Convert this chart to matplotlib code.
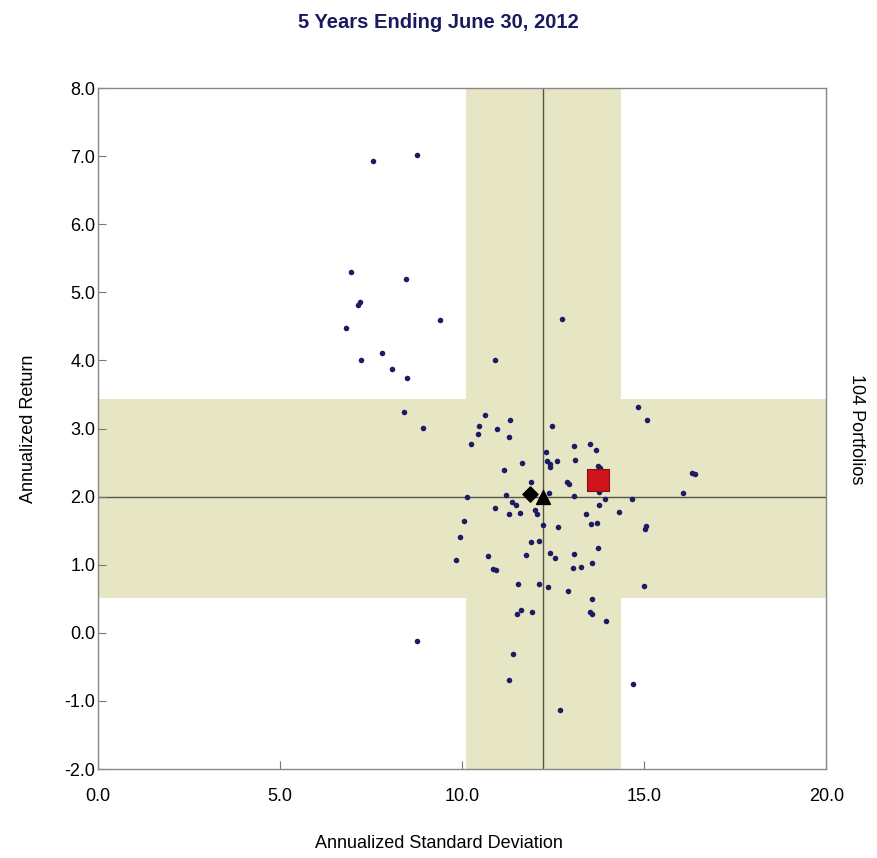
import matplotlib
matplotlib.use("Agg")
import matplotlib.pyplot as plt
import numpy as np

plt.rcParams['font.family'] = ['Liberation Sans', 'DejaVu Sans']

# Universo de carteras (desviacion estandar anualizada, rentabilidad anualizada)
std_dev = [7.55, 8.76, 6.95, 8.46, 7.20, 7.14, 6.81, 9.40, 7.79, 7.23, 8.06, 8.47, 8.40, 8.91,
           10.45, 10.44, 10.23, 10.13, 10.05, 9.95, 9.84, 8.75,
           12.74, 10.90, 10.62, 11.31, 10.96, 11.28, 12.45, 12.29, 12.33, 12.41, 12.41, 12.60,
           11.64, 11.15, 11.88, 12.88, 11.21, 12.37,
           11.36, 11.47, 10.89, 11.28, 11.59, 12.01, 12.05, 12.23, 12.64, 11.90, 12.11, 10.71,
           11.76, 12.41, 12.54, 10.84, 10.92, 11.54, 12.12, 12.35, 12.91, 11.62, 11.50, 11.91,
           11.40, 11.27, 12.67,
           14.83, 15.07, 13.07, 13.51, 13.68, 13.10, 13.72, 13.79, 12.94, 13.76, 13.07, 13.93,
           16.31, 16.40, 16.05, 14.66,
           13.75, 13.41, 14.31, 13.53, 13.70, 15.05, 15.03, 13.72, 13.08, 13.57, 13.03, 13.25,
           14.98, 13.57, 13.52, 13.56, 13.95, 14.68]
returns = [6.93, 7.02, 5.30, 5.20, 4.86, 4.81, 4.48, 4.59, 4.11, 4.00, 3.87, 3.74, 3.24, 3.01,
           3.03, 2.92, 2.78, 2.00, 1.64, 1.41, 1.07, -0.12,
           4.61, 4.00, 3.20, 3.12, 3.00, 2.88, 3.04, 2.66, 2.53, 2.48, 2.43, 2.52,
           2.50, 2.39, 2.21, 2.22, 2.03, 2.06,
           1.92, 1.87, 1.84, 1.74, 1.76, 1.81, 1.74, 1.59, 1.56, 1.33, 1.35, 1.13,
           1.15, 1.17, 1.10, 0.93, 0.92, 0.72, 0.71, 0.68, 0.62, 0.33, 0.27, 0.30,
           -0.31, -0.70, -1.13,
           3.31, 3.13, 2.75, 2.78, 2.68, 2.54, 2.45, 2.42, 2.18, 2.07, 2.01, 1.96,
           2.34, 2.33, 2.06, 1.96,
           1.88, 1.74, 1.77, 1.60, 1.62, 1.57, 1.52, 1.24, 1.16, 1.02, 0.95, 0.97,
           0.69, 0.50, 0.31, 0.27, 0.17, -0.75]

# Rango intercuartilico y medianas
std_q = [10.11, 14.37]
ret_q = [0.51, 3.43]
std_median = 12.23
ret_median = 1.99

# Marcadores especiales
cartera = (13.74, 2.24)
rombo = (11.87, 2.04)
triangulo = (12.23, 1.99)

x_ticks = [0, 5, 10, 15, 20]
y_ticks = [-2, -1, 0, 1, 2, 3, 4, 5, 6, 7, 8]

fig = plt.figure(figsize=(8.77, 8.58), dpi=100)
ax = fig.add_axes([0.1118, 0.1037, 0.8306, 0.7937])

banda = '#e6e6c4'
ax.axvspan(std_q[0], std_q[1], color=banda, lw=0, zorder=0)
ax.axhspan(ret_q[0], ret_q[1], color=banda, lw=0, zorder=0)
ax.axvline(std_median, color='#555548', lw=1.0, zorder=1)
ax.axhline(ret_median, color='#555548', lw=1.0, zorder=1)

ax.scatter(std_dev, returns, s=16, color='#1c1c66', zorder=3, linewidths=0)
ax.scatter(*rombo, marker='D', s=60, color='black', zorder=4)
ax.scatter(*triangulo, marker='^', s=100, color='black', zorder=4)
ax.scatter(*cartera, marker='s', s=260, color='#d0141c', edgecolors='#8a1010', linewidths=0.8, zorder=5)

ax.set_xlim(0, 20)
ax.set_ylim(-2, 8)
ax.set_xticks(x_ticks)
ax.set_yticks(y_ticks)
ax.set_xticklabels([f'{v:.1f}' for v in x_ticks], fontsize=13)
ax.set_yticklabels([f'{v:.1f}' for v in y_ticks], fontsize=13)
ax.tick_params(direction='in', length=6, width=0.8, color='#777777')
ax.tick_params(axis='x', pad=14)
ax.tick_params(axis='y', pad=2)
for s in ax.spines.values():
    s.set_color('#888888')
    s.set_linewidth(1.0)

fig.text(0.5, 0.974, '5 Years Ending June 30, 2012', ha='center', va='center',
         fontsize=14.5, fontweight='bold', color='#1a1a5e')
fig.text(0.5, 0.017, 'Annualized Standard Deviation', ha='center', va='center', fontsize=13)
fig.text(0.032, 0.5, 'Annualized Return', ha='center', va='center', rotation=90, fontsize=13)
fig.text(0.977, 0.5, '104 Portfolios', ha='center', va='center', rotation=270, fontsize=13)

fig.savefig('out.png', dpi=100)
